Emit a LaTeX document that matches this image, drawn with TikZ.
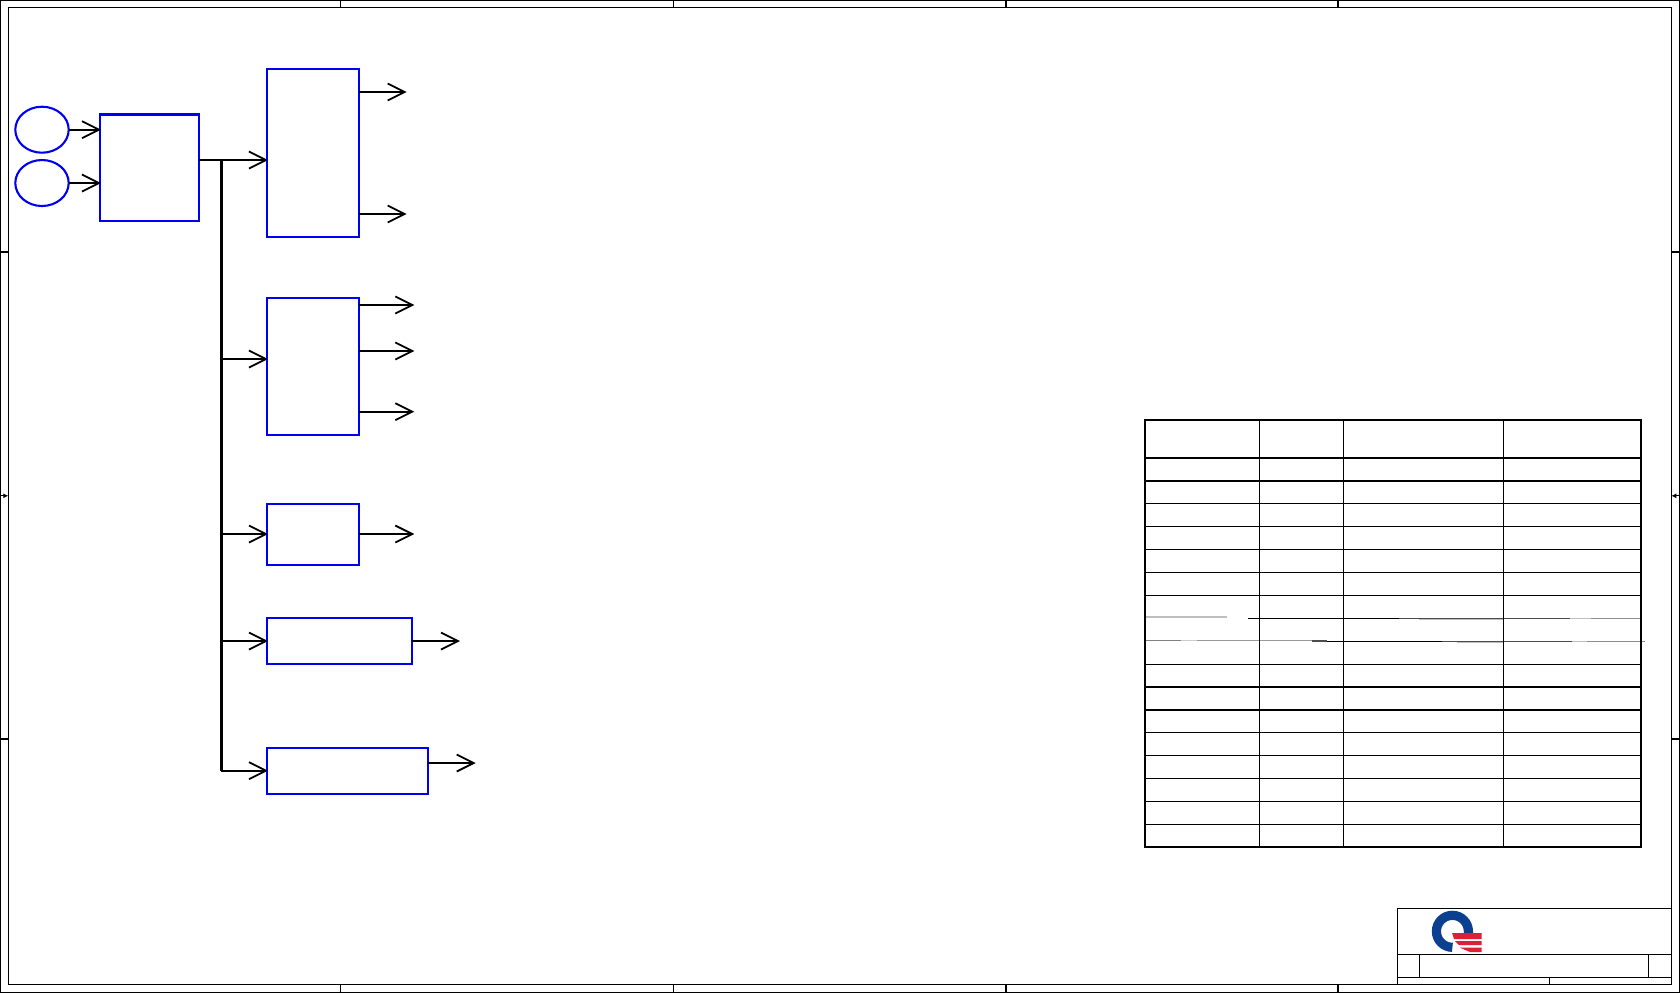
\documentclass[tikz,border=0pt]{standalone}
\usepackage{xcolor}
\usetikzlibrary{
arrows.meta,
shapes.geometric
}
\definecolor{BlockBlue}{HTML}{0000F0}
\definecolor{LogoBlue}{HTML}{0B3F8F}
\definecolor{LogoRed}{HTML}{DC2036}

\begin{document}
\begin{tikzpicture}[x=0.5pt,y=-0.5pt,
    block/.style={draw=BlockBlue, line width=1.05pt, anchor=north west, inner sep=0pt, outer sep=0pt},
    source/.style={ellipse, draw=BlockBlue, line width=1.05pt, minimum width=26.7pt, minimum height=23pt, inner sep=0pt, outer sep=0pt},
    signal/.style={-{Straight Barb[length=8.5pt,width=8.5pt,line width=0.9pt]}, line width=0.85pt, shorten >=-0.5pt},
    frame/.style={line width=0.6pt},
    rowline/.style={line width=0.6pt}]
    \useasboundingbox (0,0) rectangle (1680,993);
    % sheet border
    \draw[frame] (0.6,0.6) rectangle (1679.4,992.4);
    \draw[frame] (8.3,7.6) rectangle (1671.3,984.3);
    \foreach \x in {340.5,673.8,1006,1338} {
        \draw[frame] (\x,0.6) -- (\x,7.6);
        \draw[frame] (\x,984.3) -- (\x,992.4);
    }
    \foreach \y in {252,739} {
        \draw[frame] (0.6,\y) -- (8.3,\y);
        \draw[frame] (1671.3,\y) -- (1679.4,\y);
    }
    \draw[frame,-{Latex[length=2.5pt,width=2.5pt]}] (0.6,495.8) -- (8.3,495.8);
    \draw[frame,-{Latex[length=2.5pt,width=2.5pt]}] (1679.4,495.8) -- (1671.3,495.8);
    % blocks
    \node[source] (srca) at (42,129.7) {};
    \node[source] (srcb) at (42,183) {};
    \node[block, minimum width=99*0.5pt, minimum height=107*0.5pt] (boxa) at (100,114) {};
    \node[block, minimum width=92*0.5pt, minimum height=168*0.5pt] (boxb) at (267,69) {};
    \node[block, minimum width=92*0.5pt, minimum height=137*0.5pt] (boxc) at (267,298) {};
    \node[block, minimum width=92*0.5pt, minimum height=61*0.5pt] (boxd) at (267,504) {};
    \node[block, minimum width=145*0.5pt, minimum height=46.5*0.5pt] (boxe) at (267,617.7) {};
    \node[block, minimum width=161*0.5pt, minimum height=46.5*0.5pt] (boxf) at (267,747.7) {};
    \draw[BlockBlue, line width=1.5pt] (boxa.north west) -- (boxa.north east);
    % bus taps and free ends
    \coordinate (tapb) at (221.3,160);
    \coordinate (tapc) at (221.3,359);
    \coordinate (tapd) at (221.3,534);
    \coordinate (tape) at (221.3,641);
    \coordinate (tapf) at (221.3,770.7);
    \coordinate (outba) at (405.7,92);
    \coordinate (outbb) at (405.7,214);
    \coordinate (outca) at (413.3,305);
    \coordinate (outcb) at (413.3,351);
    \coordinate (outcc) at (413.3,411.7);
    \coordinate (outd) at (413.3,534);
    \coordinate (oute) at (459,641);
    \coordinate (outf) at (474.7,763);
    % connectors
    \draw[signal] (srca) -- (srca -| boxa.west);
    \draw[signal] (srcb) -- (srcb -| boxa.west);
    \draw[signal] (tapb -| boxa.east) -- (tapb -| boxb.west);
    \draw[line width=1.4pt] (tapb) -- (tapf);
    \draw[signal] (tapc) -- (tapc -| boxc.west);
    \draw[signal] (tapd) -- (tapd -| boxd.west);
    \draw[signal] (tape) -- (tape -| boxe.west);
    \draw[signal] (tapf) -- (tapf -| boxf.west);
    \draw[signal] (outba -| boxb.east) -- (outba);
    \draw[signal] (outbb -| boxb.east) -- (outbb);
    \draw[signal] (outca -| boxc.east) -- (outca);
    \draw[signal] (outcb -| boxc.east) -- (outcb);
    \draw[signal] (outcc -| boxc.east) -- (outcc);
    \draw[signal] (outd -| boxd.east) -- (outd);
    \draw[signal] (oute -| boxe.east) -- (oute);
    \draw[signal] (outf -| boxf.east) -- (outf);
    % table
    \foreach \i in {1,...,6,9,10,...,16} {
        \draw[rowline] (1144.7,{458+\i*22.9}) -- (1641,{458+\i*22.9});
    }
    % the two faded rows
    \foreach \xa/\xb/\yy/\tone in {1146/1227/617/25,1248/1399/618.3/100,1399/1570/618.3/70,1419/1503/619.5/25,1570/1591/618.3/25,1591/1640/618.6/45,
        1146/1181/640.6/50,1181/1197/640.6/20,1197/1312/640.8/40,1312/1327/641/70,1327/1442/641.3/100,1442/1572/641.3/70,1457/1503/642.5/25,1572/1587/641.3/25,1587/1645/641.5/45} {
        \draw[rowline, black!\tone] (\xa,\yy) -- (\xb,\yy);
    }
    \foreach \x in {1259.3,1343.3,1503.3} {
        \draw[rowline] (\x,420) -- (\x,847);
    }
    \draw[line width=0.95pt] (1144.7,457.7) -- (1641,457.7);
    \draw[line width=1.1pt] (1144.7,420) rectangle (1641,847);
    % title block
    \draw[frame] (1397.3,908.3) -- (1671.3,908.3);
    \draw[frame] (1397.3,908.3) -- (1397.3,984.3);
    \draw[frame] (1397.3,954.3) -- (1671.3,954.3);
    \draw[frame] (1397.3,977.3) -- (1671.3,977.3);
    \draw[frame] (1419.3,954.3) -- (1419.3,977.3);
    \draw[frame] (1648.3,954.3) -- (1648.3,977.3);
    \draw[frame] (1549.3,977.3) -- (1549.3,984.3);
    % logo
    \draw[LogoBlue, line width=4.6pt] (1468.4,933) -- (1468.4,931.3) arc[start angle=0, end angle=-270, radius=16];
    \fill[LogoRed] (1452,933) -- (1481.7,933) -- (1481.7,939) -- (1454,939) -- cycle;
    \fill[LogoRed] (1455,941) -- (1481.7,941) -- (1481.7,945) -- (1459,945) -- cycle;
    \fill[LogoRed] (1460,947.7) -- (1481.7,947.7) -- (1481.7,952) -- (1470,952) -- cycle;
\end{tikzpicture}
\end{document}
